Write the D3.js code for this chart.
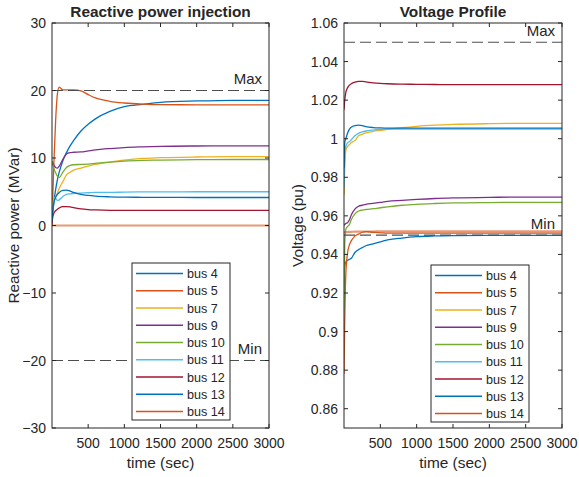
<!DOCTYPE html>
<html>
<head>
<meta charset="utf-8">
<script src="https://cdn.jsdelivr.net/npm/d3@7"></script>
<style>
body { margin: 0; background: #fff; }
svg text { font-family: "Liberation Sans", Arial, sans-serif; fill: #262626; }
</style>
</head>
<body>
<svg id="chart" width="579" height="477"></svg>
<script>
// sample times (sec) shared by every bus
const timeSec = [0, 10, 25, 50, 75, 100, 150, 200, 250, 300, 400, 500, 600, 800, 1000, 1250, 1500, 2000, 2500, 3000];

const busNames = ["bus 4", "bus 5", "bus 7", "bus 9", "bus 10", "bus 11", "bus 12", "bus 13", "bus 14"];
const busColors = ["#0072BD", "#D95319", "#EDB120", "#7E2F8E", "#77AC30", "#4DBEEE", "#A2142F", "#0072BD", "#D95319"];

// reactive power injection (MVar)
const qBus4  = [1.0, 2.0, 3.4, 5.3, 6.8, 7.9, 9.6, 10.8, 11.8, 12.6, 14.0, 15.0, 15.8, 16.9, 17.6, 17.95, 18.25, 18.45, 18.55, 18.55];
const qBus5  = [0.0, 4.0, 9.0, 15.5, 19.5, 20.5, 20.1, 20.1, 20.1, 20.1, 19.95, 19.4, 18.9, 18.4, 18.15, 17.98, 17.9, 17.88, 17.87, 17.87];
const qBus7  = [3.0, 3.5, 3.9, 4.3, 4.8, 5.5, 6.5, 7.5, 7.9, 8.2, 8.5, 8.8, 9.05, 9.4, 9.7, 9.95, 10.05, 10.15, 10.2, 10.2];
const qBus9  = [9.5, 9.3, 9.0, 8.6, 8.5, 8.8, 9.8, 10.6, 10.8, 10.85, 10.9, 11.05, 11.2, 11.4, 11.55, 11.65, 11.72, 11.78, 11.8, 11.8];
const qBus10 = [9.5, 9.0, 8.5, 7.8, 7.3, 7.1, 7.9, 8.6, 8.9, 9.0, 9.05, 9.1, 9.2, 9.4, 9.55, 9.65, 9.7, 9.75, 9.78, 9.78];
const qBus11 = [1.5, 2.8, 3.6, 4.0, 3.7, 3.8, 4.3, 4.6, 4.7, 4.75, 4.8, 4.85, 4.9, 4.9, 4.95, 4.97, 4.98, 5.0, 5.0, 5.0];
const qBus12 = [0.3, 1.2, 1.8, 2.2, 2.4, 2.6, 2.8, 2.8, 2.75, 2.65, 2.45, 2.35, 2.3, 2.25, 2.25, 2.25, 2.25, 2.25, 2.25, 2.25];
const qBus13 = [0.5, 2.0, 3.3, 4.2, 4.6, 4.9, 5.2, 5.25, 5.1, 4.9, 4.6, 4.45, 4.35, 4.25, 4.2, 4.18, 4.16, 4.15, 4.15, 4.15];
const qBus14 = [0, 0, 0, 0, 0, 0, 0, 0, 0, 0, 0, 0, 0, 0, 0, 0, 0, 0, 0, 0];

// voltage (pu)
const vBus4  = [0.93, 0.934, 0.936, 0.937, 0.9375, 0.938, 0.941, 0.9425, 0.9435, 0.9445, 0.9455, 0.9465, 0.9475, 0.9485, 0.9492, 0.9496, 0.9498, 0.9499, 0.9499, 0.9499];
const vBus5  = [0.878, 0.905, 0.93, 0.941, 0.945, 0.947, 0.9495, 0.9505, 0.9515, 0.9518, 0.9515, 0.9512, 0.951, 0.951, 0.951, 0.951, 0.951, 0.951, 0.951, 0.951];
const vBus7  = [0.971, 0.985, 0.994, 0.996, 0.997, 0.998, 0.999, 1.0015, 1.0023, 1.003, 1.0038, 1.0043, 1.0048, 1.0057, 1.0064, 1.007, 1.0074, 1.0078, 1.008, 1.008];
const vBus9  = [0.955, 0.9555, 0.956, 0.9565, 0.958, 0.9605, 0.9635, 0.965, 0.9655, 0.966, 0.9665, 0.967, 0.9675, 0.968, 0.9685, 0.969, 0.9693, 0.9696, 0.9697, 0.9697];
const vBus10 = [0.911, 0.945, 0.953, 0.9545, 0.9555, 0.958, 0.961, 0.9625, 0.963, 0.9633, 0.9637, 0.9642, 0.9647, 0.9655, 0.966, 0.9664, 0.9667, 0.9669, 0.967, 0.967];
const vBus11 = [0.975, 0.99, 0.996, 0.998, 0.9985, 0.9995, 1.0015, 1.0028, 1.0035, 1.004, 1.0045, 1.0048, 1.005, 1.005, 1.005, 1.005, 1.005, 1.005, 1.005, 1.005];
const vBus12 = [1.015, 1.02, 1.024, 1.0265, 1.0278, 1.0285, 1.0293, 1.0297, 1.0297, 1.0295, 1.029, 1.0287, 1.0285, 1.0283, 1.0282, 1.0281, 1.028, 1.028, 1.028, 1.028];
const vBus13 = [0.985, 0.998, 1.0, 1.003, 1.005, 1.006, 1.0068, 1.007, 1.0068, 1.0063, 1.0058, 1.0056, 1.0055, 1.0055, 1.0055, 1.0055, 1.0055, 1.0055, 1.0055, 1.0055];
const vBus14 = [0.9515, 0.9515, 0.9516, 0.9516, 0.9517, 0.9517, 0.9518, 0.9518, 0.9518, 0.9519, 0.9519, 0.952, 0.952, 0.952, 0.952, 0.952, 0.952, 0.952, 0.952, 0.952];

const qLimits = [20, -20];
const vLimits = [1.05, 0.95];
const timeTicks = [500, 1000, 1500, 2000, 2500, 3000];
const qTicks = [-30, -20, -10, 0, 10, 20, 30];
const vTicks = [0.86, 0.88, 0.9, 0.92, 0.94, 0.96, 0.98, 1, 1.02, 1.04, 1.06];

const svg = d3.select("#chart");

// one axes panel, matlab style
function drawPanel(p){
	let x = d3.scaleLinear().domain([0, 3000]).range([p.left, p.right]);
	let y = d3.scaleLinear().domain(p.yDomain).range([p.bottom, p.top]);
	let g = svg.append("g");

	g.append("clipPath").attr("id", p.id + "-clip")
		.append("rect")
		.attr("x", p.left).attr("y", p.top)
		.attr("width", p.right - p.left).attr("height", p.bottom - p.top);

	let plot = g.append("g").attr("clip-path", "url(#" + p.id + "-clip)");

	let line = d3.line()
		.x(function(d, i){ return x(timeSec[i]); })
		.y(function(d){ return y(d); })
		.curve(d3.curveMonotoneX);

	p.series.forEach(function(s, i){
		// last bus is drawn lighter and wider, like in the original
		let last = i == p.series.length - 1;
		plot.append("path")
			.attr("d", line(s))
			.attr("fill", "none")
			.attr("stroke", busColors[i])
			.attr("stroke-opacity", last ? 0.6 : 1)
			.attr("stroke-width", last ? 2.2 : 1.3);
	});

	// limit lines
	p.limits.forEach(function(v){
		plot.append("line")
			.attr("x1", p.left).attr("x2", p.right)
			.attr("y1", y(v)).attr("y2", y(v))
			.attr("stroke", "#4d4d4d").attr("stroke-width", 1.1)
			.attr("stroke-dasharray", "11,5");
	});

	// limit labels
	g.append("text").text("Max")
		.attr("x", p.right - 7).attr("y", y(p.limits[0]) - 6.5)
		.attr("text-anchor", "end").style("font-size", "15px");
	g.append("text").text("Min")
		.attr("x", p.right - 7).attr("y", y(p.limits[1]) - 6.5)
		.attr("text-anchor", "end").style("font-size", "15px");

	// box
	g.append("rect")
		.attr("x", p.left).attr("y", p.top)
		.attr("width", p.right - p.left).attr("height", p.bottom - p.top)
		.attr("fill", "none").attr("stroke", "#262626").attr("stroke-width", 1);

	// ticks inward on all sides
	timeTicks.forEach(function(t){
		g.append("line").attr("x1", x(t)).attr("x2", x(t))
			.attr("y1", p.bottom).attr("y2", p.bottom - 4)
			.attr("stroke", "#262626");
		g.append("line").attr("x1", x(t)).attr("x2", x(t))
			.attr("y1", p.top).attr("y2", p.top + 4)
			.attr("stroke", "#262626");
		g.append("text").text(t)
			.attr("x", x(t)).attr("y", p.bottom + 20)
			.attr("text-anchor", "middle").style("font-size", "14px");
	});
	p.yTicks.forEach(function(v){
		g.append("line").attr("x1", p.left).attr("x2", p.left + 4)
			.attr("y1", y(v)).attr("y2", y(v))
			.attr("stroke", "#262626");
		g.append("line").attr("x1", p.right).attr("x2", p.right - 4)
			.attr("y1", y(v)).attr("y2", y(v))
			.attr("stroke", "#262626");
		g.append("text").text(p.yFormat(v))
			.attr("x", p.left - 6).attr("y", y(v) + 5)
			.attr("text-anchor", "end").style("font-size", "14px");
	});

	// titles
	g.append("text").text(p.title)
		.attr("x", (p.left + p.right) / 2).attr("y", 17)
		.attr("text-anchor", "middle")
		.style("font-size", "15.4px").style("font-weight", "bold");
	g.append("text").text("time (sec)")
		.attr("x", (p.left + p.right) / 2).attr("y", 468)
		.attr("text-anchor", "middle").style("font-size", "15.4px");
	g.append("text").text(p.ylabel)
		.attr("transform", "translate(" + p.ylabelX + "," + ((p.top + p.bottom) / 2) + ") rotate(-90)")
		.attr("text-anchor", "middle").style("font-size", "15.4px");

	// legend
	let lg = g.append("g").attr("transform", "translate(" + p.legend[0] + "," + p.legend[1] + ")");
	lg.append("rect")
		.attr("width", p.legend[2]).attr("height", p.legend[3])
		.attr("fill", "#fff").attr("stroke", "#262626").attr("stroke-width", 1);
	busNames.forEach(function(name, i){
		let cy = 10.5 + i * 17.25;
		lg.append("line")
			.attr("x1", 4).attr("x2", 51)
			.attr("y1", cy).attr("y2", cy)
			.attr("stroke", busColors[i]).attr("stroke-width", 1.4);
		lg.append("text").text(name)
			.attr("x", 55).attr("y", cy + 4.5)
			.style("font-size", "12.6px");
	});
}

drawPanel({
	id: "q", left: 52, right: 269, top: 23, bottom: 428,
	yDomain: [-30, 30], yTicks: qTicks, yFormat: d3.format("d"),
	series: [qBus4, qBus5, qBus7, qBus9, qBus10, qBus11, qBus12, qBus13, qBus14],
	limits: qLimits,
	title: "Reactive power injection", ylabel: "Reactive power (MVar)", ylabelX: 19,
	legend: [132, 263, 98, 157]
});

drawPanel({
	id: "v", left: 344, right: 562, top: 23, bottom: 428,
	yDomain: [0.85, 1.06], yTicks: vTicks, yFormat: d3.format(".2~f"),
	series: [vBus4, vBus5, vBus7, vBus9, vBus10, vBus11, vBus12, vBus13, vBus14],
	limits: vLimits,
	title: "Voltage Profile", ylabel: "Voltage (pu)", ylabelX: 303,
	legend: [431, 265, 98, 157]
});
</script>
</body>
</html>
